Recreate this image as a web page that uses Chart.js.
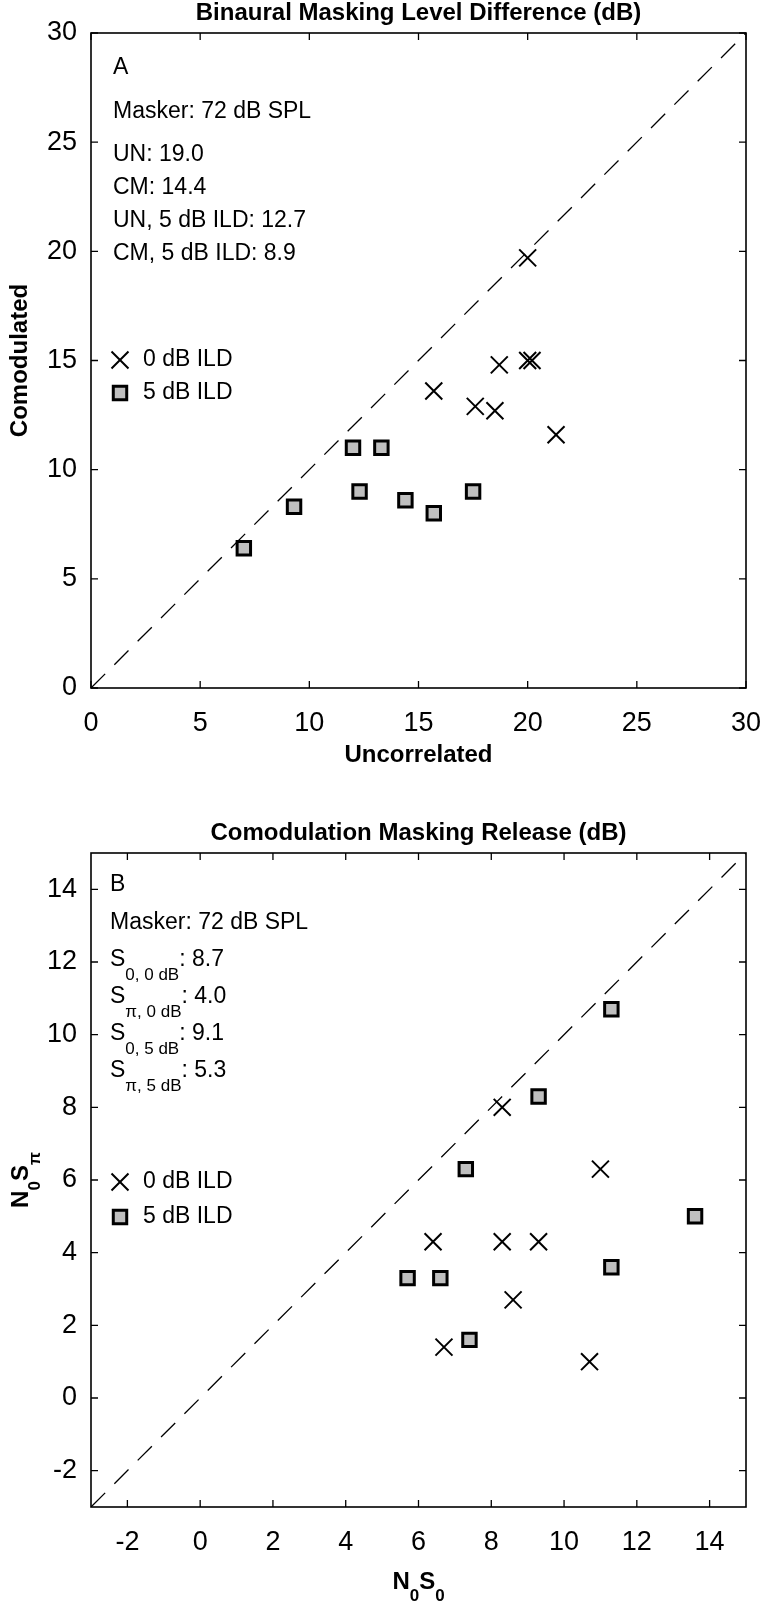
<!DOCTYPE html>
<html>
<head>
<meta charset="utf-8">
<script src="https://cdn.jsdelivr.net/npm/chart.js@4/dist/chart.umd.min.js"></script>
<style>
  body { margin: 0; background: #fff; }
  canvas { position: absolute; left: 0; }
  #panelA { top: 0; }
  #panelB { top: 800px; }
</style>
</head>
<body>
<canvas id="panelA" width="760" height="800"></canvas>
<canvas id="panelB" width="760" height="802"></canvas>
<script>
// ---- data: panel A (BMLD, dB) ----
const aUn0 = [20.0, 20.0, 20.2, 18.7, 15.7, 17.6, 18.5, 21.3];   // 0 dB ILD, uncorrelated
const aCm0 = [19.7, 15.0, 15.0, 14.8, 13.6, 12.9, 12.7, 11.6];   // 0 dB ILD, comodulated
const aUn5 = [7.0, 9.3, 12.0, 13.3, 12.3, 14.4, 15.7, 17.5];     // 5 dB ILD
const aCm5 = [6.4, 8.3, 11.0, 11.0, 9.0, 8.6, 8.0, 9.0];
const aRange = [0, 30];
const aTicks = [0, 5, 10, 15, 20, 25, 30];

// ---- data: panel B (CMR, dB) ----
const bS0_0 = [8.3, 11.0, 6.4, 8.3, 9.3, 8.6, 6.7, 10.7];        // 0 dB ILD, N0S0
const bSpi_0 = [8.0, 6.3, 4.3, 4.3, 4.3, 2.7, 1.4, 1.0];         // 0 dB ILD, N0Spi
const bS0_5 = [11.3, 9.3, 7.3, 13.6, 11.3, 5.7, 6.6, 7.4];       // 5 dB ILD
const bSpi_5 = [10.7, 8.3, 6.3, 5.0, 3.6, 3.3, 3.3, 1.6];
const bRange = [-3, 15];
const bTicks = [-2, 0, 2, 4, 6, 8, 10, 12, 14];

// ---- texts ----
const aTitle = 'Binaural Masking Level Difference (dB)';
const bTitle = 'Comodulation Masking Release (dB)';
const aNotes = ['UN: 19.0', 'CM: 14.4', 'UN, 5 dB ILD: 12.7', 'CM, 5 dB ILD: 8.9'];
const bNotes = [['0, 0 dB', ': 8.7'], ['\u03c0, 0 dB', ': 4.0'], ['0, 5 dB', ': 9.1'], ['\u03c0, 5 dB', ': 5.3']];
const legendLabels = ['0 dB ILD', '5 dB ILD'];

const FONT = "'Liberation Sans', Arial, sans-serif";
const crossStyle = { pointStyle: 'crossRot', radius: 12, borderWidth: 2, borderColor: '#000', backgroundColor: '#000' };
const squareStyle = { pointStyle: 'rect', radius: 9.5, borderWidth: 3, borderColor: '#000', backgroundColor: '#bfbfbf' };

const pts = (xs, ys) => xs.map((x, i) => ({ x: x, y: ys[i] }));

function markerSet(data, st) {
  return {
    type: 'scatter', data: data, showLine: false,
    pointStyle: st.pointStyle, pointRadius: st.radius, pointBorderWidth: st.borderWidth,
    pointBorderColor: st.borderColor, pointBackgroundColor: st.backgroundColor,
    pointHoverRadius: st.radius
  };
}
function diagonal(r) {
  return {
    type: 'line', data: [{ x: r[0], y: r[0] }, { x: r[1], y: r[1] }],
    borderColor: '#000', borderWidth: 1.3, borderDash: [20, 13], pointRadius: 0, fill: false
  };
}

function drawMarker(ctx, st, x, y) {
  ctx.save();
  ctx.lineWidth = st.borderWidth;
  ctx.strokeStyle = st.borderColor;
  ctx.fillStyle = st.backgroundColor;
  Chart.helpers.drawPoint(ctx, st, x, y);
  ctx.restore();
}

// text with subscripts, parts: [text, isSub]
function drawSubText(ctx, parts, x, y, size, weight, subSize, subDy, align) {
  const big = weight + ' ' + size + 'px ' + FONT, small = weight + ' ' + subSize + 'px ' + FONT;
  let w = 0;
  parts.forEach(p => { ctx.font = p[1] ? small : big; w += ctx.measureText(p[0]).width; });
  let cx = align === 'center' ? x - w / 2 : x;
  ctx.textAlign = 'left';
  ctx.textBaseline = 'middle';
  parts.forEach(p => {
    ctx.font = p[1] ? small : big;
    ctx.fillText(p[0], cx, p[1] ? y + subDy : y);
    cx += ctx.measureText(p[0]).width;
  });
}

// frame, inward ticks on all four sides, title, notes and legend
function framePlugin(cfg) {
  return {
    id: 'frame',
    afterDatasetsDraw(chart) {
      const ctx = chart.ctx, a = chart.chartArea;
      const sx = chart.scales.x, sy = chart.scales.y;
      ctx.save();
      ctx.strokeStyle = '#000';
      ctx.lineWidth = 1.3;
      sx.ticks.forEach(t => {
        const px = sx.getPixelForValue(t.value);
        ctx.beginPath();
        ctx.moveTo(px, a.bottom); ctx.lineTo(px, a.bottom - 7);
        ctx.moveTo(px, a.top); ctx.lineTo(px, a.top + 7);
        ctx.stroke();
      });
      sy.ticks.forEach(t => {
        const py = sy.getPixelForValue(t.value);
        ctx.beginPath();
        ctx.moveTo(a.left, py); ctx.lineTo(a.left + 7, py);
        ctx.moveTo(a.right, py); ctx.lineTo(a.right - 7, py);
        ctx.stroke();
      });
      ctx.lineWidth = 1.6;
      ctx.strokeRect(a.left, a.top, a.right - a.left, a.bottom - a.top);

      ctx.fillStyle = '#000';
      ctx.textBaseline = 'middle';
      ctx.textAlign = 'center';
      ctx.font = 'bold 24px ' + FONT;
      ctx.fillText(cfg.title, (a.left + a.right) / 2, cfg.titleY);

      cfg.notes(ctx);

      // legend
      ctx.font = '23px ' + FONT;
      ctx.textAlign = 'left';
      ctx.textBaseline = 'middle';
      drawMarker(ctx, crossStyle, 120, cfg.legendY[0]);
      drawMarker(ctx, squareStyle, 120, cfg.legendY[1]);
      ctx.fillText(legendLabels[0], 143, cfg.legendY[0]);
      ctx.fillText(legendLabels[1], 143, cfg.legendY[1]);
      if (cfg.extra) cfg.extra(ctx, chart);
      ctx.restore();
    }
  };
}

function scaleOpts(range, ticks, fitSize, axis, title) {
  const o = {
    type: 'linear', min: range[0], max: range[1],
    grid: { display: false, drawTicks: false },
    border: { display: false },
    afterBuildTicks: s => { s.ticks = ticks.map(v => ({ value: v })); },
    ticks: { color: '#000', font: { family: FONT, size: 27 }, padding: axis === 'x' ? 19 : 14, autoSkip: false, maxRotation: 0 },
    title: { display: !!title, text: title || '', color: '#000', font: { family: FONT, size: 24, weight: 'bold' } }
  };
  if (axis === 'x') {
    o.afterFit = s => { s.height = fitSize; s.paddingLeft = 0; s.paddingRight = 0; };
    o.title.padding = { top: 0, bottom: 30 };
  } else {
    o.afterFit = s => { s.width = fitSize; s.paddingTop = 0; s.paddingBottom = 0; };
    o.title.padding = { top: 6, bottom: 0 };
  }
  return o;
}

const baseOpts = (padTop, xs, ys) => ({
  responsive: false,
  animation: false,
  layout: { padding: { top: padTop, right: 12, left: 0, bottom: 0 } },
  plugins: { legend: { display: false }, tooltip: { enabled: false } },
  scales: { x: xs, y: ys }
});

// ---- panel A ----
new Chart(document.getElementById('panelA'), {
  type: 'scatter',
  data: {
    datasets: [
      markerSet(pts(aUn0, aCm0), crossStyle),
      markerSet(pts(aUn5, aCm5), squareStyle),
      diagonal(aRange)
    ]
  },
  options: baseOpts(33,
    scaleOpts(aRange, aTicks, 112, 'x', 'Uncorrelated'),
    scaleOpts(aRange, aTicks, 91, 'y', 'Comodulated')),
  plugins: [framePlugin({
    title: aTitle, titleY: 13, legendY: [360, 393],
    notes(ctx) {
      ctx.font = '23px ' + FONT;
      ctx.textAlign = 'left';
      ctx.fillText('A', 113, 68);
      ctx.fillText('Masker: 72 dB SPL', 113, 112);
      aNotes.forEach((t, i) => ctx.fillText(t, 113, 155 + i * 33));
    }
  })]
});

// ---- panel B ----
new Chart(document.getElementById('panelB'), {
  type: 'scatter',
  data: {
    datasets: [
      markerSet(pts(bS0_0, bSpi_0), crossStyle),
      markerSet(pts(bS0_5, bSpi_5), squareStyle),
      diagonal(bRange)
    ]
  },
  options: baseOpts(53,
    scaleOpts(bRange, bTicks, 95, 'x', null),
    scaleOpts(bRange, bTicks, 91, 'y', null)),
  plugins: [framePlugin({
    title: bTitle, titleY: 33, legendY: [382, 417],
    notes(ctx) {
      ctx.font = '23px ' + FONT;
      ctx.textAlign = 'left';
      ctx.fillText('B', 110, 85);
      ctx.fillText('Masker: 72 dB SPL', 110, 123);
      bNotes.forEach((n, i) => drawSubText(ctx, [['S', false], [n[0], true], [n[1], false]], 110, 160 + i * 37, 23, '', 17, 15, 'left'));
    },
    extra(ctx, chart) {
      const a = chart.chartArea;
      ctx.fillStyle = '#000';
      drawSubText(ctx, [['N', false], ['0', true], ['S', false], ['0', true]], (a.left + a.right) / 2, 782, 24, 'bold', 17, 14, 'center');
      ctx.save();
      ctx.translate(21, (a.top + a.bottom) / 2);
      ctx.rotate(-Math.PI / 2);
      drawSubText(ctx, [['N', false], ['0', true], ['S', false], ['\u03c0', true]], 0, 0, 24, 'bold', 17, 14, 'center');
      ctx.restore();
    }
  })]
});
</script>
</body>
</html>
